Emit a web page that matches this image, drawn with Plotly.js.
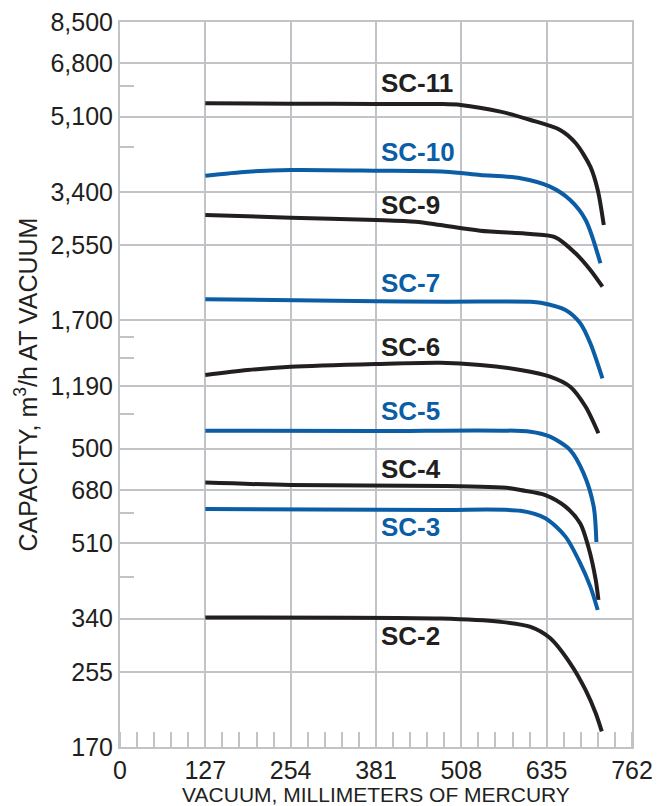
<!DOCTYPE html>
<html>
<head>
<meta charset="utf-8">
<script src="https://cdn.plot.ly/plotly-3.0.1.min.js"></script>
<style>html,body{margin:0;padding:0;background:#fff;}#chart{width:672px;height:806px;}</style>
</head>
<body>
<div id="chart"></div>
<script>
// X axis ticks (vacuum, mm Hg)
const xTicks = [0, 127, 254, 381, 508, 635, 762];
// Y axis ticks (capacity, m3/h) and their printed labels (as in the original)
const yTickVals = [170, 255, 340, 510, 680, 850, 1190, 1700, 2550, 3400, 5100, 6800, 8500];
const yTickText = ["170", "255", "340", "510", "680", "500", "1,190", "1,700", "2,550", "3,400", "5,100", "6,800", "8,500"];
const yMinorVals = [425, 600, 1025, 1385, 1550, 4330, 6020];

// Series (vacuum x, capacity y)
const sc11_x = [127, 254, 381, 477, 507, 566, 611, 655, 678, 700, 711, 720];
const sc11_y = [5480, 5470, 5460, 5460, 5433, 5241, 5010, 4746, 4424, 3894, 3434, 2842];
const sc10_x = [127, 190, 254, 381, 484, 536, 596, 640, 670, 693, 715];
const sc10_y = [3709, 3790, 3824, 3811, 3790, 3723, 3658, 3496, 3253, 2921, 2312];
const sc9_x = [127, 254, 381, 440, 477, 536, 611, 648, 678, 700, 718];
const sc9_y = [3000, 2957, 2921, 2894, 2842, 2757, 2708, 2660, 2440, 2230, 2038];
const sc7_x = [127, 381, 484, 611, 626, 663, 685, 700, 718];
const sc7_y = [1904, 1885, 1879, 1879, 1869, 1797, 1673, 1502, 1243];
const sc6_x = [127, 190, 254, 381, 477, 536, 596, 640, 670, 693, 712];
const sc6_y = [1265, 1300, 1323, 1343, 1352, 1336, 1300, 1254, 1188, 1066, 924];
const sc5_x = [127, 381, 611, 640, 670, 690, 705, 709];
const sc5_y = [937, 935, 932, 907, 844, 744, 622, 514];
const sc4_x = [127, 254, 484, 581, 596, 633, 663, 685, 697, 708, 712];
const sc4_y = [708, 699, 695, 687, 680, 662, 622, 568, 501, 419, 376];
const sc3_x = [127, 477, 596, 633, 663, 685, 700, 711];
const sc3_y = [614, 611, 608, 584, 529, 458, 404, 356];
const sc2_x = [127, 477, 566, 611, 640, 670, 693, 708, 717];
const sc2_y = [342, 340, 334, 325, 306, 267, 231, 204, 185];

// Curve labels
const labelNames = ["SC-11", "SC-10", "SC-9", "SC-7", "SC-6", "SC-5", "SC-4", "SC-3", "SC-2"];
const labelY = [6116, 4214, 3162, 2081, 1471, 1043, 761, 556, 309];

const BLACK = "#231f20";
const BLUE = "#0b5ea6";
const GRID = "#c2c3c6";

const series = [
  [sc11_x, sc11_y, BLACK],
  [sc10_x, sc10_y, BLUE],
  [sc9_x, sc9_y, BLACK],
  [sc7_x, sc7_y, BLUE],
  [sc6_x, sc6_y, BLACK],
  [sc5_x, sc5_y, BLUE],
  [sc4_x, sc4_y, BLACK],
  [sc3_x, sc3_y, BLUE],
  [sc2_x, sc2_y, BLACK]
];

const traces = series.map((s, i) => ({
  x: s[0], y: s[1], type: "scatter", mode: "lines",
  line: {color: s[2], width: 4, shape: "spline", smoothing: 0.8},
  name: labelNames[i], hoverinfo: "skip"
}));

const annotations = labelNames.map((n, i) => ({
  x: 385, y: Math.log10(labelY[i]), xref: "x", yref: "y",
  text: "<b>" + n + "</b>", showarrow: false, xanchor: "left", yanchor: "middle",
  font: {family: "Liberation Sans, Arial, sans-serif", size: 26, color: series[i][2]}
}));

const tickFont = {family: "Liberation Sans, Arial, sans-serif", size: 25, color: BLACK};

const layout = {
  width: 672, height: 806,
  margin: {l: 120, r: 40, t: 22, b: 59},
  paper_bgcolor: "#fff", plot_bgcolor: "#fff",
  showlegend: false,
  xaxis: {
    range: [0, 762], tickmode: "array", tickvals: xTicks, ticktext: xTicks.map(String),
    showgrid: true, gridcolor: GRID, gridwidth: 2,
    showline: true, mirror: true, linecolor: GRID, linewidth: 2,
    ticks: "", zeroline: false, tickfont: tickFont,
    minor: {dtick: 25.4, tick0: 0, ticks: "inside", ticklen: 15, tickwidth: 2, tickcolor: GRID, showgrid: false},
    title: {text: "VACUUM, MILLIMETERS OF MERCURY", font: {family: "Liberation Sans, Arial, sans-serif", size: 21, color: BLACK}, standoff: 4}
  },
  yaxis: {
    type: "log", range: [Math.log10(170), Math.log10(8500)],
    tickmode: "array", tickvals: yTickVals, ticktext: yTickText,
    showgrid: true, gridcolor: GRID, gridwidth: 2,
    showline: true, mirror: true, linecolor: GRID, linewidth: 2,
    ticks: "", zeroline: false, tickfont: tickFont,
    minor: {tickmode: "array", tickvals: yMinorVals, ticks: "inside", ticklen: 14, tickwidth: 2, tickcolor: GRID, showgrid: false},
    title: {text: "CAPACITY, m<sup>3</sup>/h AT VACUUM", font: {family: "Liberation Sans, Arial, sans-serif", size: 25, color: BLACK}, standoff: 6}
  },
  annotations: annotations
};

Plotly.newPlot("chart", traces, layout, {staticPlot: true, displayModeBar: false});
</script>
</body>
</html>
